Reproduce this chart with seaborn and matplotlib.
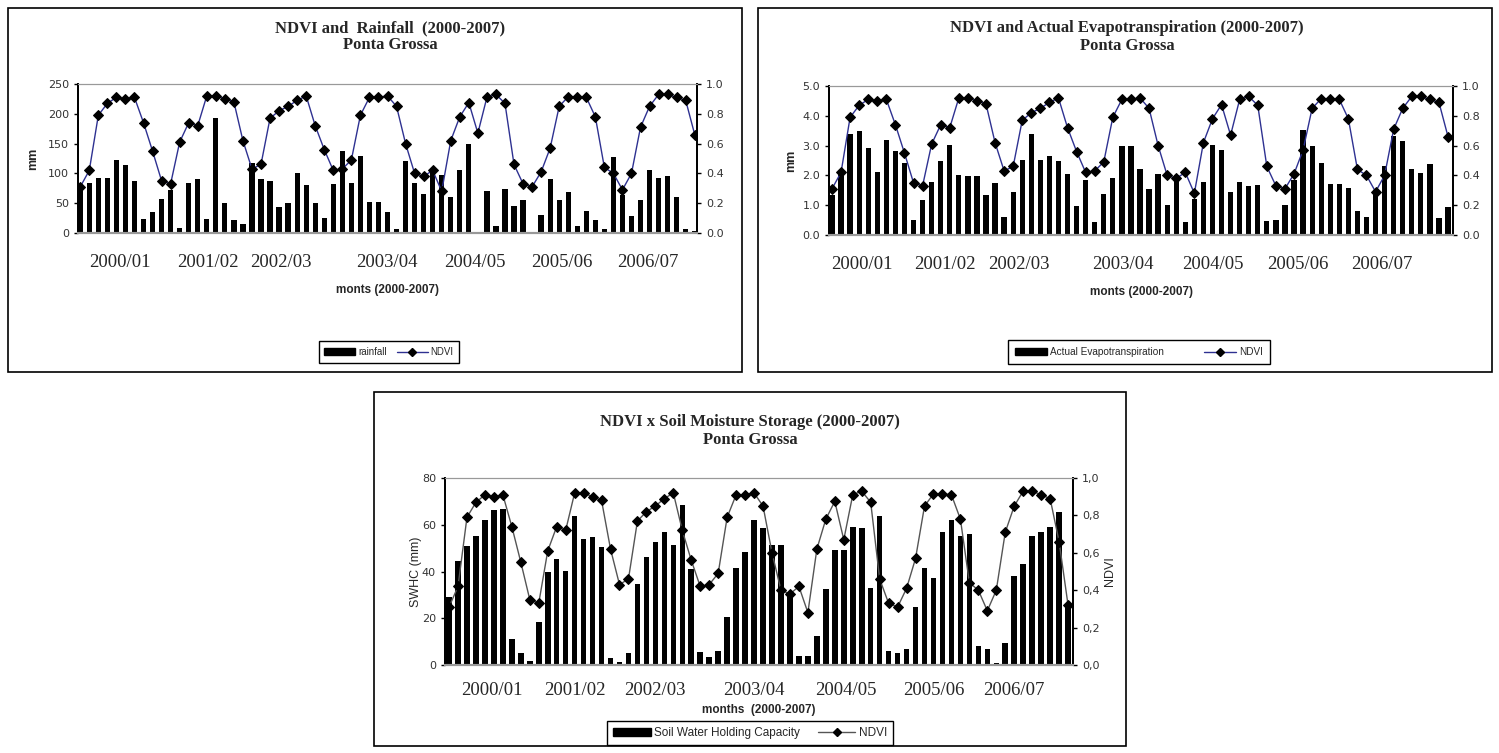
import matplotlib
matplotlib.use("Agg")
import matplotlib.pyplot as plt
import seaborn as sns
from matplotlib.patches import Rectangle, Patch
from matplotlib.lines import Line2D
from matplotlib.ticker import FuncFormatter, FixedLocator

# monthly series (Ponta Grossa)
rainfall = [75, 84, 93, 93, 123, 114, 87, 24, 35, 57, 72, 9, 84, 90, 24, 193, 51, 21, 15,
            118, 91, 87, 44, 50, 101, 81, 51, 25, 83, 138, 84, 129, 52, 52, 36, 7, 120,
            84, 66, 107, 97, 60, 106, 149, 0, 70, 11, 74, 45, 56, 1, 31, 90, 55, 68, 11,
            37, 21, 7, 128, 64, 29, 55, 106, 93, 95, 60, 7, 4]
aet = [1.34, 2.15, 3.4, 3.5, 2.93, 2.1, 3.2, 2.83, 2.4, 0.5, 1.17, 1.78, 2.47, 3.03, 2.02,
       1.97, 1.97, 1.33, 1.74, 0.62, 1.44, 2.51, 3.4, 2.5, 2.64, 2.47, 2.05, 0.97, 1.83,
       0.43, 1.37, 1.9, 2.98, 2.98, 2.23, 1.55, 2.05, 1.01, 2.0, 0.45, 1.2, 1.79, 3.03,
       2.86, 1.45, 1.77, 1.63, 1.68, 0.48, 0.5, 1.02, 1.83, 3.53, 2.97, 2.42, 1.7, 1.7,
       1.58, 0.82, 0.6, 1.5, 2.32, 3.32, 3.17, 2.2, 2.07, 2.39, 0.58, 0.95]
swhc = [29.3, 44.7, 50.7, 55.3, 62.1, 66.1, 66.9, 11.1, 5.0, 1.6, 18.4, 40.0, 45.3, 40.3,
        63.9, 54.0, 54.6, 50.3, 3.1, 1.4, 5.3, 34.7, 46.1, 52.7, 57.0, 51.3, 68.6, 41.0,
        5.7, 3.6, 6.1, 20.7, 41.3, 48.4, 61.9, 58.4, 51.3, 51.3, 31.0, 4.0, 4.0, 12.6,
        32.4, 49.0, 49.3, 58.9, 58.4, 32.9, 63.6, 6.1, 5.0, 7.0, 24.7, 41.3, 37.1, 56.9,
        62.1, 55.4, 56.1, 8.3, 6.7, 1.0, 9.6, 37.9, 43.4, 55.0, 57.1, 58.9, 65.3, 25.4]
ndvi = [0.31, 0.42, 0.79, 0.87, 0.91, 0.90, 0.91, 0.74, 0.55, 0.35, 0.33, 0.61, 0.74, 0.72,
        0.92, 0.92, 0.90, 0.88, 0.62, 0.43, 0.46, 0.77, 0.82, 0.85, 0.89, 0.92, 0.72, 0.56,
        0.42, 0.43, 0.49, 0.79, 0.91, 0.91, 0.92, 0.85, 0.60, 0.40, 0.38, 0.42, 0.28, 0.62,
        0.78, 0.875, 0.67, 0.91, 0.93, 0.87, 0.46, 0.33, 0.31, 0.41, 0.57, 0.85, 0.915,
        0.915, 0.91, 0.78, 0.44, 0.40, 0.29, 0.40, 0.71, 0.85, 0.93, 0.93, 0.91, 0.89,
        0.66, 0.32]
year_labels = ["2000/01", "2001/02", "2002/03", "2003/04", "2004/05", "2005/06", "2006/07"]

W, H = 1499, 753
fig = plt.figure(figsize=(W / 100, H / 100), dpi=100)
sns.set_style("white")

SERIF = "Liberation Serif"
SANS = "Liberation Sans"


def box(l, t, r, b):
    return [l / W, 1 - b / H, (r - l) / W, (b - t) / H]


def frame(l, t, r, b):
    fig.patches.append(Rectangle((l / W, 1 - b / H), (r - l) / W, (b - t) / H,
                                 transform=fig.transFigure, fill=False,
                                 edgecolor="black", lw=1.2))


def panel(rect, bars, line, ymax, ystep, lfmt, xlim, bar_w, line_col, mk,
          title, label_x, year_y, xlab, xlab_y, bar_name, leg_xy, leg_opts,
          ylab_left, left_pad, ylab_right=None, xticks=False, comma=False):
    n = len(bars)
    idx = list(range(n))
    ax = fig.add_axes(box(*rect))
    sns.barplot(x=idx, y=bars, ax=ax, color="black", width=bar_w, saturation=1,
                edgecolor="black", linewidth=0)
    ax.set_ylim(0, ymax)
    ax.set_xlim(*xlim)
    ax.set_yticks([ystep * k for k in range(int(round(ymax / ystep)) + 1)])
    ax.yaxis.set_major_formatter(FuncFormatter(lambda v, p: lfmt.format(v)))
    ax2 = ax.twinx()
    sns.lineplot(x=idx, y=line[:n], ax=ax2, color=line_col, lw=1.0, marker="D",
                 markersize=mk, markerfacecolor="black", markeredgecolor="black")
    ax2.set_ylim(0, 1)
    ax2.set_xlim(*xlim)
    ax2.set_yticks([0, 0.2, 0.4, 0.6, 0.8, 1.0])
    if comma:
        ax2.yaxis.set_major_formatter(FuncFormatter(lambda v, p: f"{v:.1f}".replace(".", ",")))
    else:
        ax2.yaxis.set_major_formatter(FuncFormatter(lambda v, p: f"{v:.1f}"))
    for a in (ax, ax2):
        a.spines["top"].set_color("#999999")
        a.spines["bottom"].set_color("#999999")
        a.spines["bottom"].set_linewidth(1.5)
        a.spines["left"].set_color("black")
        a.spines["right"].set_color("black")
        a.spines["left"].set_linewidth(1.3)
        a.spines["right"].set_linewidth(1.3)
        a.tick_params(axis="y", labelsize=8, colors="black", length=3, width=1,
                      labelcolor="#333333")
        a.set_xlabel("")
    ax.set_ylabel("")
    ax2.set_ylabel("")
    ax.tick_params(axis="y", left=True, direction="out")
    ax2.tick_params(axis="y", right=True, direction="out")
    if xticks:
        ax.xaxis.set_major_locator(FixedLocator([k + 0.5 for k in range(-1, n)]))
        ax.tick_params(axis="x", bottom=True, direction="out", length=4, width=1,
                       colors="#333333", labelbottom=False)
    else:
        ax.set_xticks([])
    ax2.set_xticks([])

    # axis title and the year labels under the axis
    fig.text((rect[0] + rect[2]) / 2 / W, 1 - xlab_y / H, xlab, ha="center", va="center",
             family=SANS, fontsize=8.5, fontweight="bold", zorder=1)
    for lab, xv in zip(year_labels, label_x):
        ax.text(xv, year_y, lab, transform=ax.get_xaxis_transform(), ha="center",
                va="center", family=SERIF, fontsize=13.5, zorder=5)
    # titles
    cx = title[2] / W
    fig.text(cx, 1 - title[3] / H, title[0], ha="center", va="center", family=SERIF,
             fontsize=12, fontweight="bold")
    fig.text(cx, 1 - title[4] / H, title[1], ha="center", va="center", family=SERIF,
             fontsize=12, fontweight="bold")
    ax.set_ylabel(ylab_left, family=SANS, fontsize=9,
                  fontweight="bold" if not comma else "normal", labelpad=left_pad)
    if ylab_right:
        ax2.set_ylabel(ylab_right, family=SANS, fontsize=9, labelpad=3)
    handles = [Patch(facecolor="black", edgecolor="black"),
               Line2D([0], [0], color=line_col, lw=1, marker="D", markersize=4,
                      markerfacecolor="black", markeredgecolor="black")]
    leg = fig.legend(handles, [bar_name, "NDVI"], loc="center",
                     bbox_to_anchor=(leg_xy[0] / W, 1 - leg_xy[1] / H), ncol=2,
                     frameon=True, fancybox=False, edgecolor="black", framealpha=1,
                     prop={"family": SANS, "size": leg_opts[0]},
                     handlelength=3.2, handleheight=0.7,
                     columnspacing=leg_opts[1], handletextpad=0.3,
                     borderpad=leg_opts[2])
    leg.get_frame().set_linewidth(1)
    return ax, ax2


# frames round each chart
frame(8, 8, 742, 372)
frame(758, 8, 1492, 372)
frame(374, 392, 1126, 746)

panel((78, 84, 697, 233), rainfall, ndvi, 250, 50, "{:.0f}", (-0.25, 68.25),
      0.58, "#2e3191", 5.5,
      ("NDVI and  Rainfall  (2000-2007)", "Ponta Grossa", 390, 28, 45),
      [4.4, 14.1, 22.2, 33.9, 43.7, 53.3, 62.8], -0.2, "monts (2000-2007)", 290,
      "rainfall", (389, 352), (7, 1.0, 0.6), "mm", 6)

panel((829, 86, 1453, 235), aet, ndvi, 5.0, 1.0, "{:.1f}", (-0.33, 68.55),
      0.58, "#2e3191", 5.5,
      ("NDVI and Actual Evapotranspiration (2000-2007)", "Ponta Grossa", 1127, 28, 46),
      [3.3, 12.5, 20.6, 32.1, 42.0, 51.4, 60.7], -0.2, "monts (2000-2007)", 292,
      "Actual Evapotranspiration", (1139, 352), (7.2, 4.0, 0.7), "mm", 4)

panel((445, 478, 1073, 665), swhc, ndvi, 80, 20, "{:.0f}", (-0.45, 69.55),
      0.62, "#555555", 5,
      ("NDVI x Soil Moisture Storage (2000-2007)", "Ponta Grossa", 750, 422, 440),
      [4.8, 14.0, 22.9, 34.0, 44.2, 54.0, 62.9], -0.135, "months  (2000-2007)", 710,
      "Soil Water Holding Capacity", (750, 733), (8.5, 1.5, 0.5), "SWHC (mm)", 0,
      ylab_right="NDVI", xticks=True, comma=True)

fig.savefig("out.png", dpi=100, facecolor="white")
